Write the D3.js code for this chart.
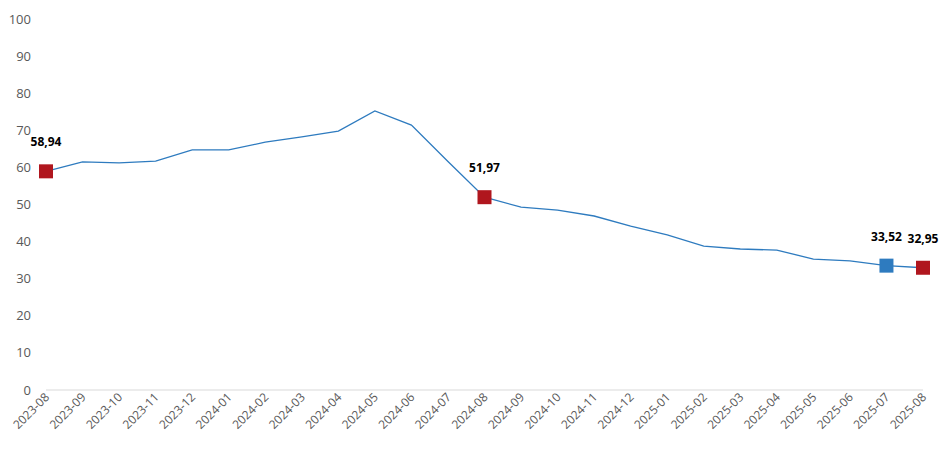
<!DOCTYPE html>
<html>
<head>
<meta charset="utf-8">
<script src="https://cdn.jsdelivr.net/npm/d3@7"></script>
<style>
  body { margin: 0; background: #fff; }
  text { font-family: "Open Sans", sans-serif; }
</style>
</head>
<body>
<script>
const months = ["2023-08","2023-09","2023-10","2023-11","2023-12","2024-01","2024-02","2024-03","2024-04","2024-05","2024-06","2024-07","2024-08","2024-09","2024-10","2024-11","2024-12","2025-01","2025-02","2025-03","2025-04","2025-05","2025-06","2025-07","2025-08"];
const values = [58.94,61.5,61.2,61.7,64.7,64.7,66.8,68.2,69.8,75.2,71.4,61.6,51.97,49.3,48.5,46.9,44.2,41.8,38.8,38.0,37.7,35.3,34.8,33.52,32.95];
// highlighted points: index, colour
const markers = [
  { i: 0, color: "#b0161e" },
  { i: 12, color: "#b0161e" },
  { i: 23, color: "#2e7bbf" },
  { i: 24, color: "#b0161e" }
];
const yTicks = [0,10,20,30,40,50,60,70,80,90,100];

const width = 945, height = 453;
const margin = { top: 19, right: 22, bottom: 63, left: 46 };

const svg = d3.select("body").append("svg")
  .attr("width", width).attr("height", height);

const x = d3.scalePoint().domain(months).range([margin.left, width - margin.right]);
const y = d3.scaleLinear().domain([0, 100]).range([height - margin.bottom, margin.top]);

// y axis labels
svg.append("g").selectAll("text").data(yTicks).enter().append("text")
  .attr("x", 31).attr("y", d => y(d)).attr("dy", "0.35em")
  .attr("text-anchor", "end").attr("font-size", 13).attr("fill", "#595959")
  .text(d => d);

// x axis line
svg.append("line")
  .attr("x1", margin.left).attr("x2", width - margin.right)
  .attr("y1", y(0)).attr("y2", y(0))
  .attr("stroke", "#d9d9d9");

// x labels rotated
svg.append("g").selectAll("text").data(months).enter().append("text")
  .attr("transform", d => `translate(${x(d) + 4},${y(0) + 8}) rotate(-45)`)
  .attr("text-anchor", "end").attr("font-size", 12).attr("fill", "#595959")
  .text(d => d);

// line
svg.append("path")
  .datum(values)
  .attr("fill", "none").attr("stroke", "#2e7bbf").attr("stroke-width", 1.3)
  .attr("d", d3.line().x((d, i) => x(months[i])).y(d => y(d)));

// markers
const s = 14;
svg.append("g").selectAll("rect").data(markers).enter().append("rect")
  .attr("x", d => x(months[d.i]) - s / 2).attr("y", d => y(values[d.i]) - s / 2)
  .attr("width", s).attr("height", s).attr("fill", d => d.color);

svg.append("g").selectAll("text").data(markers).enter().append("text")
  .attr("x", d => x(months[d.i])).attr("y", d => y(values[d.i]) - 25)
  .attr("text-anchor", "middle").attr("font-size", 12).attr("font-weight", "bold")
  .attr("fill", "#000")
  .text(d => values[d.i].toFixed(2).replace(".", ","));
</script>
</body>
</html>
